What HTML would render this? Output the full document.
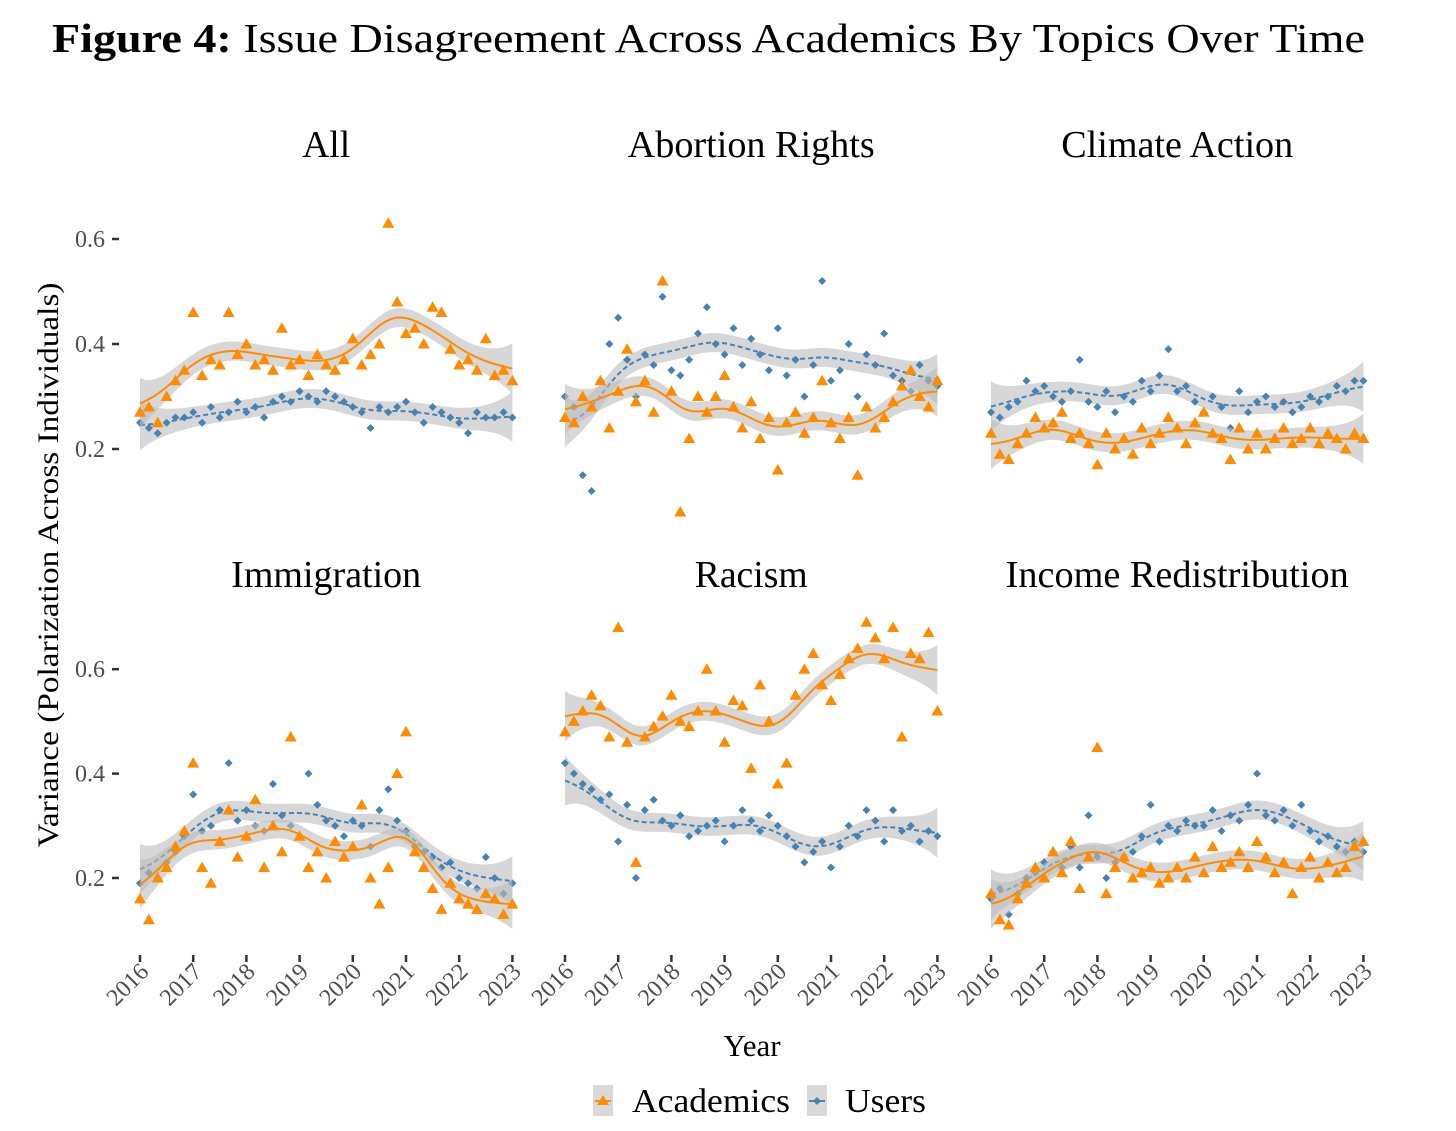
<!DOCTYPE html>
<html><head><meta charset="utf-8"><style>
html,body{margin:0;padding:0;background:#fff;}
svg{display:block;font-family:"Liberation Serif",serif;}
</style></head><body>
<svg id="chart" width="1456" height="1131" viewBox="0 0 1456 1131">
<text x="52" y="52" font-size="41" textLength="1313" lengthAdjust="spacingAndGlyphs" fill="#000"><tspan font-weight="bold">Figure 4:</tspan> Issue Disagreement Across Academics By Topics Over Time</text>
<text transform="translate(58,565) rotate(-90)" font-size="30" text-anchor="middle" textLength="565" lengthAdjust="spacingAndGlyphs" fill="#000">Variance (Polarization Across Individuals)</text>
<text x="752" y="1056" font-size="31" text-anchor="middle" fill="#000">Year</text>
<g>
<g>
<rect x="593" y="1085" width="20" height="31" fill="#d9d9d9"/>
<line x1="595" y1="1101" x2="611" y2="1101" stroke="#FF8C00" stroke-width="2"/>
<polygon points="603,1095 609,1105 597,1105" fill="#FF8C00"/>
<text x="632" y="1112" font-size="34" textLength="158" lengthAdjust="spacingAndGlyphs" fill="#000">Academics</text>
</g>
<g>
<rect x="807" y="1085" width="20" height="31" fill="#d9d9d9"/>
<line x1="809" y1="1101" x2="825" y2="1101" stroke="#4682B4" stroke-width="2"/>
<polygon points="817,1097 821,1101 817,1105 813,1101" fill="#4682B4"/>
<text x="845" y="1112" font-size="34" textLength="81" lengthAdjust="spacingAndGlyphs" fill="#000">Users</text>
</g>
</g>
<g id="panels"></g>
</svg>
<script>
const panelTitles = ["All","Abortion Rights","Climate Action","Immigration","Racism","Income Redistribution"];
const titleWidths = [48,247,232,190,113,343];
const yTicks = [0.2,0.4,0.6];
const yTickLabels = ["0.2","0.4","0.6"];
const years = [2016,2017,2018,2019,2020,2021,2022,2023];
const allA = [0.27,0.28,0.25,0.30,0.33,0.35,0.46,0.34,0.37,0.36,0.46,0.38,0.40,0.36,0.37,0.35,0.43,0.36,0.37,0.34,0.38,0.36,0.35,0.37,0.41,0.36,0.38,0.40,0.63,0.48,0.42,0.43,0.40,0.47,0.46,0.39,0.36,0.37,0.35,0.41,0.34,0.35,0.33];
const allU = [0.25,0.24,0.23,0.25,0.26,0.26,0.27,0.25,0.28,0.26,0.27,0.29,0.27,0.28,0.26,0.29,0.30,0.29,0.31,0.30,0.29,0.31,0.30,0.29,0.28,0.27,0.24,0.28,0.27,0.28,0.29,0.27,0.25,0.28,0.27,0.26,0.25,0.23,0.27,0.26,0.26,0.27,0.26];
const abA = [0.26,0.25,0.30,0.28,0.33,0.24,0.31,0.39,0.29,0.33,0.27,0.52,0.31,0.08,0.22,0.30,0.27,0.30,0.34,0.28,0.24,0.29,0.22,0.26,0.16,0.25,0.27,0.23,0.26,0.33,0.25,0.22,0.26,0.15,0.28,0.24,0.26,0.29,0.32,0.35,0.30,0.28,0.33];
const abU = [0.30,0.28,0.15,0.12,0.33,0.40,0.45,0.37,0.30,0.38,0.36,0.49,0.35,0.34,0.37,0.42,0.47,0.40,0.38,0.43,0.36,0.41,0.38,0.35,0.43,0.34,0.37,0.30,0.36,0.52,0.33,0.35,0.40,0.30,0.38,0.36,0.42,0.34,0.33,0.31,0.36,0.33,0.32];
const clA = [0.23,0.19,0.18,0.21,0.23,0.26,0.24,0.25,0.27,0.22,0.23,0.21,0.17,0.23,0.20,0.22,0.19,0.24,0.21,0.23,0.26,0.24,0.21,0.25,0.27,0.23,0.22,0.18,0.24,0.20,0.23,0.20,0.22,0.24,0.21,0.22,0.24,0.21,0.23,0.22,0.20,0.23,0.22];
const clU = [0.27,0.26,0.28,0.29,0.33,0.31,0.32,0.30,0.29,0.31,0.37,0.29,0.28,0.31,0.27,0.30,0.29,0.33,0.31,0.34,0.39,0.31,0.32,0.29,0.27,0.30,0.28,0.24,0.31,0.27,0.29,0.30,0.28,0.29,0.27,0.28,0.30,0.29,0.30,0.32,0.31,0.33,0.33];
const imA = [0.16,0.12,0.20,0.22,0.26,0.29,0.42,0.22,0.19,0.27,0.33,0.24,0.28,0.35,0.22,0.30,0.25,0.47,0.28,0.22,0.25,0.20,0.27,0.24,0.26,0.34,0.20,0.15,0.22,0.40,0.48,0.25,0.22,0.18,0.14,0.19,0.16,0.15,0.14,0.17,0.16,0.13,0.15];
const imU = [0.19,0.21,0.20,0.23,0.25,0.28,0.36,0.29,0.30,0.33,0.42,0.31,0.33,0.30,0.29,0.38,0.32,0.30,0.28,0.40,0.34,0.31,0.30,0.28,0.31,0.30,0.26,0.33,0.37,0.31,0.29,0.26,0.25,0.24,0.22,0.23,0.20,0.19,0.18,0.24,0.20,0.17,0.19];
const raA = [0.48,0.50,0.52,0.55,0.53,0.47,0.68,0.46,0.23,0.47,0.49,0.51,0.55,0.50,0.49,0.52,0.60,0.52,0.46,0.54,0.53,0.41,0.57,0.50,0.38,0.42,0.55,0.60,0.63,0.57,0.54,0.59,0.62,0.64,0.69,0.66,0.62,0.68,0.47,0.63,0.62,0.67,0.52];
const raU = [0.42,0.40,0.38,0.37,0.35,0.36,0.27,0.34,0.20,0.33,0.35,0.31,0.30,0.32,0.28,0.29,0.30,0.31,0.27,0.30,0.33,0.31,0.29,0.32,0.30,0.28,0.26,0.23,0.25,0.27,0.22,0.26,0.30,0.28,0.33,0.31,0.27,0.33,0.29,0.30,0.27,0.29,0.28];
const inA = [0.17,0.12,0.11,0.16,0.19,0.22,0.20,0.25,0.21,0.27,0.18,0.24,0.45,0.17,0.22,0.24,0.20,0.21,0.22,0.19,0.20,0.22,0.20,0.24,0.21,0.26,0.22,0.23,0.25,0.22,0.27,0.24,0.21,0.23,0.17,0.22,0.24,0.20,0.23,0.21,0.22,0.26,0.27];
const inU = [0.16,0.18,0.13,0.17,0.20,0.21,0.23,0.25,0.22,0.26,0.22,0.32,0.24,0.20,0.23,0.24,0.25,0.28,0.34,0.27,0.30,0.29,0.31,0.30,0.30,0.33,0.29,0.32,0.31,0.34,0.40,0.32,0.31,0.33,0.30,0.34,0.29,0.27,0.28,0.26,0.25,0.27,0.25];
const academicsSeries = [allA,abA,clA,imA,raA,inA];
const usersSeries = [allU,abU,clU,imU,raU,inU];

const NS="http://www.w3.org/2000/svg";
const root=document.getElementById('panels');
const colX0=[140,565,991], yrPx=53.2;
const rowY02=[449,878], rowPerUnit=[525,522];
function xScale(col,t){return colX0[col]+(t-2016)*yrPx;}
function yScale(row,v){return rowY02[row]-(v-0.2)*rowPerUnit[row];}
function tOf(i,n){return 2016+i*7/(n-1);}
function mk(tag,attrs,parent){const e=document.createElementNS(NS,tag);for(const k in attrs)e.setAttribute(k,attrs[k]);parent.appendChild(e);return e;}
function smooth(vals){
  const n=vals.length,out=[];
  for(let k=0;k<=70;k++){
    const t=2016+k*0.1;let sw=0,sv=0;
    for(let i=0;i<n;i++){const d=(tOf(i,n)-t)/0.45;const w=Math.exp(-d*d/2);sw+=w;sv+=w*vals[i];}
    const edge=Math.min(t-2016,2023-t);
    out.push({t:t,v:sv/sw,se:0.018+0.03*Math.exp(-edge/0.35)});
  }
  return out;
}
function drawSeries(g,col,row,vals,isAcad){
  const color=isAcad?"#FF8C00":"#4682B4";
  const sm=smooth(vals);
  let up=sm.map(p=>xScale(col,p.t).toFixed(1)+","+yScale(row,p.v+p.se).toFixed(1));
  let lo=sm.slice().reverse().map(p=>xScale(col,p.t).toFixed(1)+","+yScale(row,p.v-p.se).toFixed(1));
  const rib=mk('polygon',{points:up.concat(lo).join(' '),fill:'#bdbdbd','fill-opacity':0.6},g);
  
  
  vals.forEach((v,i)=>{
    const x=xScale(col,tOf(i,vals.length)),y=yScale(row,v);
    let p;
    if(isAcad) p=mk('polygon',{points:`${x},${y-6} ${x+6},${y+4.5} ${x-6},${y+4.5}`,fill:color},g);
    else p=mk('polygon',{points:`${x},${y-4} ${x+4},${y} ${x},${y+4} ${x-4},${y}`,fill:color},g);
    
    
  });
  const ln=mk('polyline',{points:sm.map(p=>xScale(col,p.t).toFixed(1)+","+yScale(row,p.v).toFixed(1)).join(' '),fill:'none',stroke:color,'stroke-width':2,'stroke-dasharray':isAcad?'none':'5,3'},g);
  
  
}
for(let p=0;p<6;p++){
  const col=p%3,row=Math.floor(p/3);
  const g=mk('g',{},root);
  
  
  const tt=mk('text',{x:xScale(col,2019.5),y:row===0?157:587,'font-size':38,'text-anchor':'middle',textLength:titleWidths[p],lengthAdjust:'spacingAndGlyphs',fill:'#000'},g);
  tt.textContent=panelTitles[p];
  
  
  drawSeries(g,col,row,usersSeries[p],false);
  drawSeries(g,col,row,academicsSeries[p],true);
  if(col===0){
    yTicks.forEach((v,i)=>{
      const y=yScale(row,v);
      const tk=mk('line',{x1:112,x2:119,y1:y,y2:y,stroke:'#333','stroke-width':2.5},g);
      
      
      const tl=mk('text',{x:105,y:y+8,'font-size':24,'text-anchor':'end',fill:'#4d4d4d'},g);
      tl.textContent=yTickLabels[i];
      
      
    });
  }
  if(row===1){
    years.forEach(yr=>{
      const x=xScale(col,yr);
      const tk=mk('line',{x1:x,x2:x,y1:955,y2:962,stroke:'#333','stroke-width':2.5},g);
      
      
      const tl=mk('text',{transform:`translate(${x+10},${973}) rotate(-45)`,'font-size':24,'text-anchor':'end',fill:'#4d4d4d'},g);
      tl.textContent=String(yr);
      
      
    });
  }
}
</script>
</body></html>
